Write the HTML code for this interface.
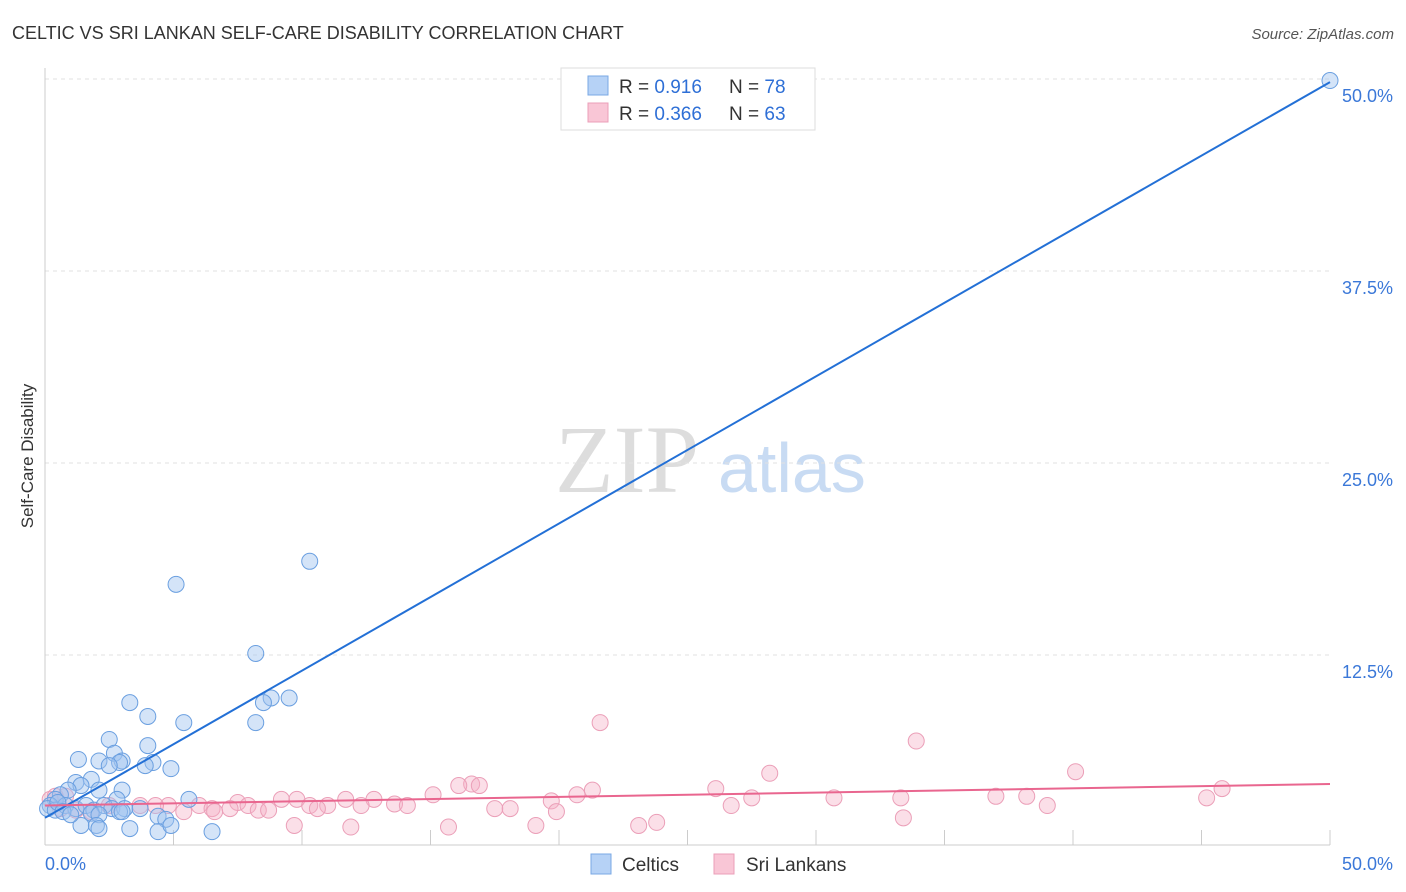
<!DOCTYPE html>
<html><head><meta charset="utf-8"><style>
body{margin:0;background:#fff;font-family:"Liberation Sans",sans-serif}
svg{display:block}
</style></head><body>
<svg id="chart" width="1406" height="892" xmlns="http://www.w3.org/2000/svg">
<text x="12" y="39" font-size="18" fill="#333">CELTIC VS SRI LANKAN SELF-CARE DISABILITY CORRELATION CHART</text>
<text x="1394" y="39" font-size="15" fill="#555" font-style="italic" text-anchor="end">Source: ZipAtlas.com</text>
<text x="33" y="456" font-size="17" fill="#333" transform="rotate(-90 33 456)" text-anchor="middle">Self-Care Disability</text>
<text x="555" y="492" font-size="96" fill="#ddd" font-family="Liberation Serif,serif">ZIP</text>
<text x="718" y="492" font-size="70" fill="#c8dbf3">atlas</text>
<g id="grid"></g><g id="pts"></g><g id="lines"></g>
<g>
<rect x="561" y="68" width="254" height="62" fill="#fff" stroke="#ddd"/>
<rect x="588" y="76" width="20" height="19" fill="#b6d2f6" stroke="#7aa8e4"/>
<rect x="588" y="103" width="20" height="19" fill="#f9c6d6" stroke="#eb9fb8"/>
<text x="619" y="93" font-size="19" fill="#333">R = <tspan fill="#2e6fd6">0.916</tspan><tspan x="729">N = </tspan><tspan fill="#2e6fd6">78</tspan></text>
<text x="619" y="120" font-size="19" fill="#333">R = <tspan fill="#2e6fd6">0.366</tspan><tspan x="729">N = </tspan><tspan fill="#2e6fd6">63</tspan></text>
</g>
<g>
<rect x="591" y="854" width="20" height="20" fill="#b6d2f6" stroke="#7aa8e4"/>
<text x="622" y="871" font-size="19" fill="#333">Celtics</text>
<rect x="714" y="854" width="20" height="20" fill="#f9c6d6" stroke="#eb9fb8"/>
<text x="746" y="871" font-size="19" fill="#333">Sri Lankans</text>
</g>
</svg>
<script>
const yTicks=[12.5,25,37.5,50];
const yTickLabels=["12.5%","25.0%","37.5%","50.0%"];
const xTickLabels=["0.0%","50.0%"];
const celticsX=[50,10.3,5.1,8.2,3.3,9.5,8.8,8.5,4.0,5.4,8.2,2.5,4.0,2.7,1.3,2.1,3.0,2.9,4.2,3.9,4.9,2.5,1.2,1.8,1.4,0.9,2.1,3.0,0.6,5.6,2.8,0.4,0.2,0.1,0.4,0.8,1.2,1.6,1.9,2.3,2.6,3.1,3.7,2.9,1.8,2.1,1.4,2.0,2.1,3.3,4.4,4.7,4.4,4.9,6.5,3.0,0.5,0.7,1.0];
const celticsY=[49.9,18.6,17.1,12.6,9.4,9.7,9.7,9.4,8.5,8.1,8.1,7.0,6.6,6.1,5.7,5.6,5.6,5.5,5.5,5.3,5.1,5.3,4.2,4.4,4.0,3.7,3.7,3.7,3.4,3.1,3.1,3.1,2.7,2.5,2.4,2.7,2.5,2.7,2.4,2.7,2.5,2.5,2.5,2.3,2.2,2.1,1.4,1.4,1.2,1.2,2.0,1.8,1.0,1.4,1.0,2.3,2.9,2.3,2.1];
const sriX=[21.6,33.9,40.1,28.2,16.6,16.1,16.9,45.8,26.1,21.3,15.1,20.7,38.2,37.0,33.3,30.7,27.5,45.2,12.8,11.7,9.8,9.2,19.7,39.0,26.7,13.6,14.1,12.3,11.0,10.3,7.5,7.9,6.0,7.2,6.5,4.8,4.3,3.7,2.5,8.3,8.7,10.6,17.5,18.1,19.9,6.6,5.4,33.4,9.7,11.9,15.7,19.1,23.1,23.8,0.2,0.6,1.2,0.4,1.8,0.8];
const sriY=[8.1,6.9,4.9,4.8,4.1,4.0,4.0,3.8,3.8,3.7,3.4,3.4,3.3,3.3,3.2,3.2,3.2,3.2,3.1,3.1,3.1,3.1,3.0,2.7,2.7,2.8,2.7,2.7,2.7,2.7,2.9,2.7,2.7,2.5,2.5,2.7,2.7,2.7,2.7,2.4,2.4,2.5,2.5,2.5,2.3,2.3,2.3,1.9,1.4,1.3,1.3,1.4,1.4,1.6,3.1,2.5,2.4,3.3,2.3,3.3];
const celticsTrend=[1.9,49.8];
const sriTrend=[2.7,4.1];
const NS="http://www.w3.org/2000/svg";
const X0=45,X1=1330,Y0=847,YS=15.36;
const sx=v=>X0+(X1-X0)*v/50, sy=v=>Y0-v*YS;
function mk(tag,attrs,parent){const e=document.createElementNS(NS,tag);for(const k in attrs)e.setAttribute(k,attrs[k]);parent.appendChild(e);return e;}
const grid=document.getElementById('grid');
const svg=document.getElementById('chart');
yTicks.forEach((t,i)=>{
 const l=mk('line',{x1:45,x2:1330,y1:sy(t),y2:sy(t),stroke:'#e2e2e2','stroke-dasharray':'4,4'},grid);
 
 
 const tx=mk('text',{x:1393,y:sy(t)+23,'font-size':18,fill:'#3b78d8','text-anchor':'end'},grid);
 tx.textContent=yTickLabels[i];
 
 
});
const ax=mk('line',{x1:45,x2:1330,y1:845,y2:845,stroke:'#ccc'},grid);


const ay=mk('line',{x1:45,x2:45,y1:68,y2:845,stroke:'#ccc'},grid);


for(let i=1;i<=10;i++){const tk=mk('line',{x1:sx(i*5),x2:sx(i*5),y1:830,y2:845,stroke:'#ccc'},grid);
 
 }
[[0,45,'start'],[50,1393,'end']].forEach((a,i)=>{const tx=mk('text',{x:a[1],y:870,'font-size':18,fill:'#3b78d8','text-anchor':a[2]},grid);tx.textContent=xTickLabels[i];
 
 });
const pts=document.getElementById('pts');
sriX.forEach((x,i)=>{const c=mk('circle',{cx:sx(x),cy:sy(sriY[i]),r:8,fill:'rgba(246,176,198,0.4)',stroke:'#eb9fb8','stroke-width':1},pts);
 
 });
celticsX.forEach((x,i)=>{const c=mk('circle',{cx:sx(x),cy:sy(celticsY[i]),r:8,fill:'rgba(160,196,240,0.45)',stroke:'#6a9fe0','stroke-width':1},pts);
 
 });
const lines=document.getElementById('lines');
const bl=mk('line',{x1:sx(0),y1:sy(celticsTrend[0]),x2:sx(50),y2:sy(celticsTrend[1]),stroke:'#2370d6','stroke-width':2},lines);


const pl=mk('line',{x1:sx(0),y1:sy(sriTrend[0]),x2:sx(50),y2:sy(sriTrend[1]),stroke:'#e9668f','stroke-width':2},lines);


</script>
</body></html>
